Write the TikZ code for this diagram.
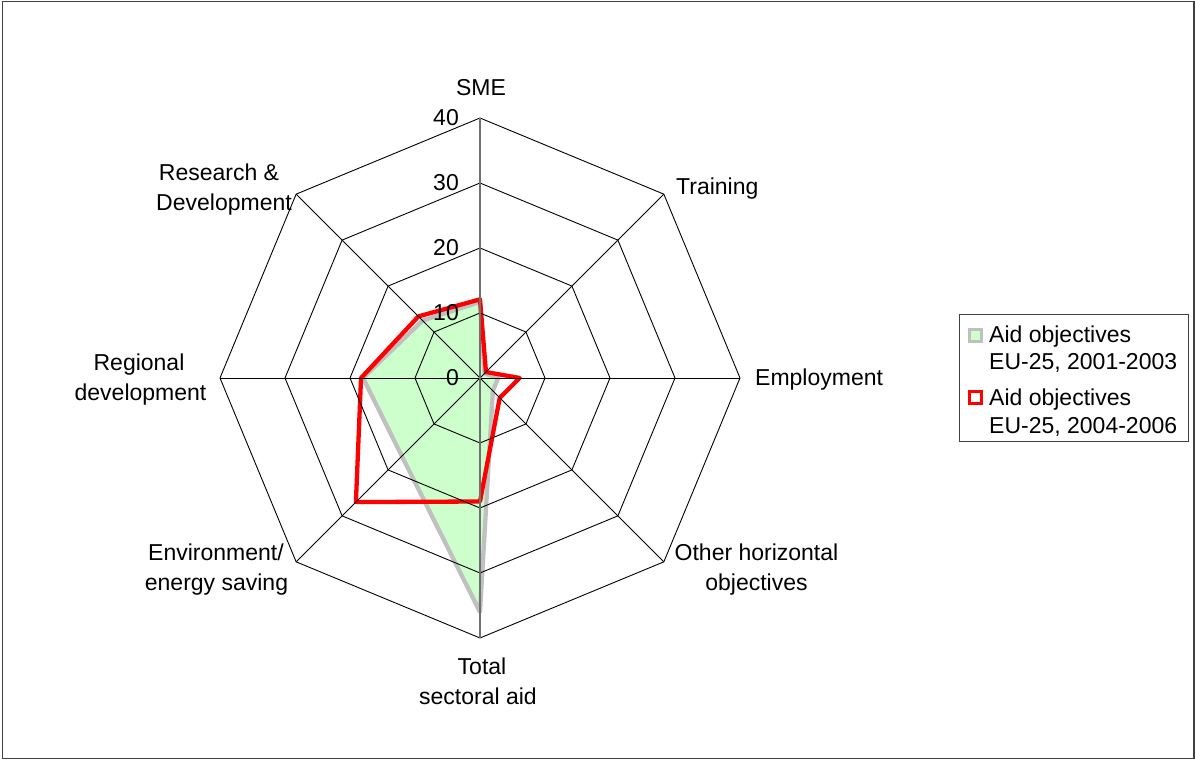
\documentclass[tikz,border=0pt]{standalone}
\usepackage{fontspec}
\setmainfont{Liberation Sans}
\usetikzlibrary{calc}
\definecolor{fillgreen}{HTML}{CCFFCC}
\definecolor{sergrey}{HTML}{C0C0C0}
\definecolor{serred}{HTML}{FF0000}
\definecolor{axisgrey}{HTML}{707070}
\definecolor{framegrey}{HTML}{404040}
\begin{document}
\begin{tikzpicture}[x=1pt,y=1pt,
  txt/.style={font=\fontsize{23}{28}\selectfont, inner sep=0pt, text=black},
  gridline/.style={black, line width=0.9pt},
  greyseries/.style={draw=sergrey, fill=fillgreen, line width=4.3pt, line join=round},
  redseries/.style={draw=serred, line width=4.3pt, line join=round},
]
\useasboundingbox (0,0) rectangle (1195,760);
\draw[framegrey, line width=1.5pt] (2.5,1.7) rectangle (1194,758.5);

\coordinate (C) at (480,382);
% axis end points
\foreach \a/\n in {90/SME,45/Tr,0/Em,-45/Oh,-90/To,-135/En,180/Re,135/RD}{
  \coordinate (ax\n) at ($(C)+(\a:260)$);
}
% data coordinates
\foreach \a/\v [count=\i] in {90/11.7,45/1.0,0/2.8,-45/2.8,-90/36,-135/17,180/18,135/12.5}{
  \coordinate (g\i) at ($(C)+(\a:\v*6.5)$);
}
\foreach \a/\v [count=\i] in {90/12.1,45/1.3,0/6.1,-45/4.3,-90/19,-135/27,180/18.3,135/13.4}{
  \coordinate (r\i) at ($(C)+(\a:\v*6.5)$);
}
% series
\path[greyseries] (g1) -- (g2) -- (g3) -- (g4) -- (g5) -- (g6) -- (g7) -- (g8) -- cycle;
\path[redseries] (r1) -- (r2) -- (r3) -- (r4) -- (r5) -- (r6) -- (r7) -- (r8) -- cycle;

% grid rings
\foreach \k in {1,2,3,4}{
  \draw[gridline] ($(C)+(0:\k*65)$)
    -- ($(C)+(45:\k*65)$) -- ($(C)+(90:\k*65)$) -- ($(C)+(135:\k*65)$)
    -- ($(C)+(180:\k*65)$) -- ($(C)+(225:\k*65)$) -- ($(C)+(270:\k*65)$)
    -- ($(C)+(315:\k*65)$) -- cycle;
}
% spokes
\foreach \n in {Tr,Em,Oh,En,Re,RD}{
  \draw[gridline] (C) -- (ax\n);
}
\draw[axisgrey, line width=1.2pt] (axTo) -- (axSME);

% tick labels
\foreach \k in {0,1,2,3,4}{
  \node[txt, anchor=base east] (tick\k) at (459,374+65*\k) {\pgfmathparse{int(10*\k)}\pgfmathresult};
}

% category labels
\node[txt, anchor=base] (lSME) at (481,664) {SME};
\node[txt, anchor=base west] (lTr) at (676,565) {Training};
\node[txt, anchor=base west] (lEm) at (755,374) {Employment};
\node[txt, anchor=base] (lOh1) at (756.5,199) {Other horizontal};
\node[txt, anchor=base] (lOh2) at (756.5,169) {objectives};
\node[txt, anchor=base] (lTo1) at (482,85) {Total};
\node[txt, anchor=base] (lTo2) at (478,55) {sectoral aid};
\node[txt, anchor=base] (lEn1) at (216,199) {Environment/};
\node[txt, anchor=base] (lEn2) at (216.5,169) {energy saving};
\node[txt, anchor=base] (lRe1) at (139,389) {Regional};
\node[txt, anchor=base] (lRe2) at (140.5,359) {development};
\node[txt, anchor=base] (lRD1) at (219,579) {Research \&};
\node[txt, anchor=base] (lRD2) at (224,549) {Development};

% legend
\draw[framegrey, line width=1pt] (959.3,318.3) rectangle (1188.3,445);
\filldraw[draw=sergrey, fill=fillgreen, line width=3pt] (969.5,418.5) rectangle (981.5,430.5);
\draw[serred, line width=3pt, fill=white] (969.5,356.5) rectangle (981.5,368);
\node[txt, anchor=base west] (leg1a) at (989,417.3) {Aid objectives};
\node[txt, anchor=base west] (leg1b) at (989,390) {EU-25, 2001-2003};
\node[txt, anchor=base west] (leg2a) at (989,354) {Aid objectives};
\node[txt, anchor=base west] (leg2b) at (989,326.7) {EU-25, 2004-2006};
\end{tikzpicture}
\end{document}
